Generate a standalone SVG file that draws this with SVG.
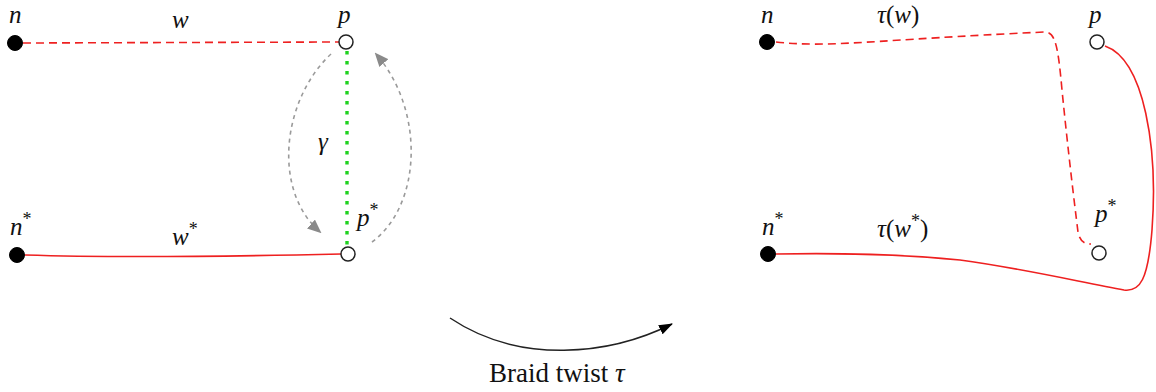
<svg xmlns="http://www.w3.org/2000/svg" width="1156" height="392" viewBox="0 0 1156 392">
<style>
.lbl{font-family:"Liberation Serif","DejaVu Serif",serif;font-style:italic;font-size:25px;fill:#111}
.up{font-style:normal}
.sup{font-size:18px;font-style:normal}
.cap{font-family:"Liberation Serif","DejaVu Serif",serif;font-size:27px;fill:#111}
.fill{fill:#000;stroke:#000;stroke-width:1}
.open{fill:#fff;stroke:#222;stroke-width:1.5}
.rd{fill:none;stroke:#ee2020;stroke-width:1.6;stroke-dasharray:8 5}
.rs{fill:none;stroke:#ee2020;stroke-width:1.6}
.gr{fill:none;stroke:#9a9a9a;stroke-width:1.6;stroke-dasharray:4 4}
.gn{fill:none;stroke:#1fd21f;stroke-width:3.4;stroke-dasharray:3.4 6.6}
</style>
<defs>
<marker id="ga" viewBox="0 0 14 12" refX="12" refY="6" markerWidth="14" markerHeight="12" markerUnits="userSpaceOnUse" orient="auto">
<path d="M0,0 L14,6 L0,12 Z" fill="#8a8a8a"/>
</marker>
<marker id="ba" viewBox="0 0 14 10" refX="13" refY="5" markerWidth="14" markerHeight="10" markerUnits="userSpaceOnUse" orient="auto">
<path d="M0,0 L14,5 L0,10 Z" fill="#000"/>
</marker>
</defs>
<g id="connectors">
<path class="rd" d="M23 43 L339 42"/>
<path class="rs" d="M25 255 C120 258 250 256 341 254"/>
<path class="gn" d="M347 51 L347 247"/>
<path class="gr" d="M331 54 C282 100 272 190 320 232" marker-end="url(#ga)"/>
<path class="gr" d="M372 242 C422 205 425 110 376 54" marker-end="url(#ga)"/>
<path class="rd" d="M776 42 C830 48 870 40 1045 32 C1055 32 1058 45 1062 90 C1068 150 1074 200 1078 232 C1080 242 1085 244 1091 244"/>
<path class="rs" d="M1105 46 C1145 60 1158 150 1152 230 C1148 280 1140 292 1124 290 C1080 282 1020 268 960 260 C900 254 830 253 776 254"/>
<path d="M450 318 C520 365 610 355 672 324" fill="none" stroke="#222" stroke-width="1.5" marker-end="url(#ba)"/>
</g>
<g id="node-n"><circle class="fill" cx="15" cy="43" r="7.5"/><text class="lbl" x="9" y="23">n</text></g>
<g id="node-p"><circle class="open" cx="346" cy="42" r="7"/><text class="lbl" x="338" y="23">p</text></g>
<g id="node-nstar"><circle class="fill" cx="17" cy="255" r="7.5"/><text class="lbl" x="10" y="235">n<tspan class="sup" dy="-10">*</tspan></text></g>
<g id="node-pstar"><circle class="open" cx="348" cy="254" r="7"/><text class="lbl" x="357" y="226">p<tspan class="sup" dy="-10">*</tspan></text></g>
<g id="label-w"><text class="lbl" x="172" y="28">w</text></g>
<g id="label-wstar"><text class="lbl" x="172" y="245">w<tspan class="sup" dy="-10">*</tspan></text></g>
<g id="label-gamma"><text class="lbl" x="318" y="150">γ</text></g>
<g id="node-n2"><circle class="fill" cx="767" cy="42" r="7.5"/><text class="lbl" x="761" y="23">n</text></g>
<g id="node-p2"><circle class="open" cx="1097" cy="42" r="7"/><text class="lbl" x="1089" y="23">p</text></g>
<g id="node-nstar2"><circle class="fill" cx="768" cy="254" r="7.5"/><text class="lbl" x="762" y="235">n<tspan class="sup" dy="-10">*</tspan></text></g>
<g id="node-pstar2"><circle class="open" cx="1099" cy="253" r="7"/><text class="lbl" x="1095" y="222">p<tspan class="sup" dy="-10">*</tspan></text></g>
<g id="label-tw"><text class="lbl" x="877" y="23">τ<tspan class="up">(</tspan>w<tspan class="up">)</tspan></text></g>
<g id="label-twstar"><text class="lbl" x="877" y="237">τ<tspan class="up">(</tspan>w<tspan class="sup" dy="-10">*</tspan><tspan class="up" dy="10">)</tspan></text></g>
<g id="caption"><text class="cap" x="489" y="382">Braid twist <tspan font-style="italic">τ</tspan></text></g>
</svg>
